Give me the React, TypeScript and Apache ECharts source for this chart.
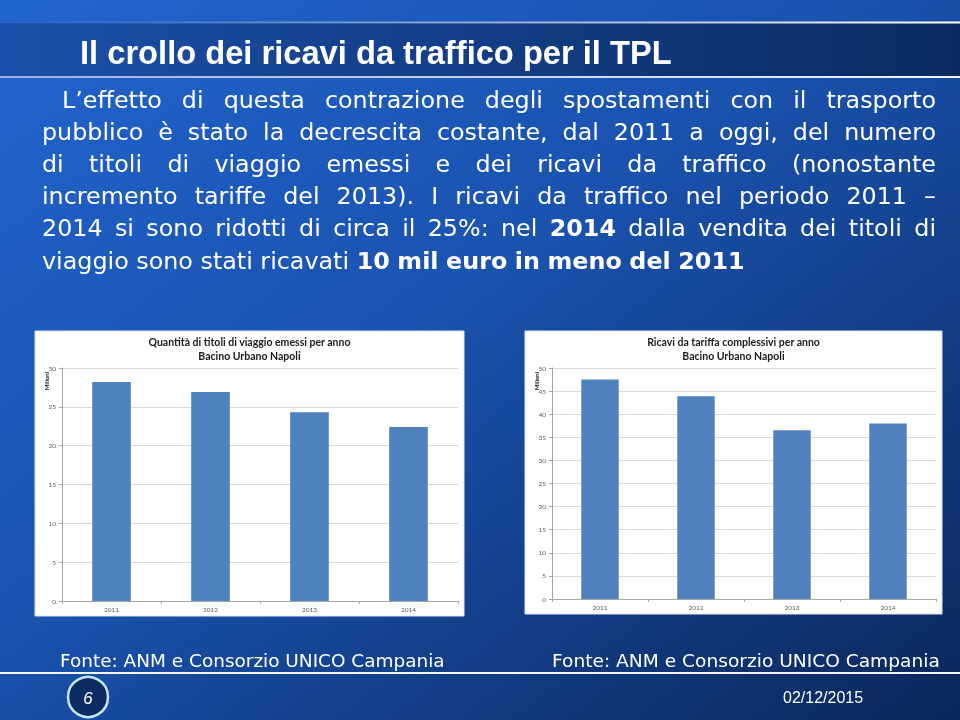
import React, { useEffect, useRef } from 'react';
import * as echarts from 'echarts';

// ---- data ----
const years = ['2011', '2012', '2013', '2014'];
const ticketsMillions = [28.2, 26.9, 24.3, 22.4];
const revenueMillions = [47.5, 43.9, 36.5, 38.0];
const ticketsAxisMax = 30;
const revenueAxisMax = 50;
const axisStep = 5;

// ---- texts ----
const slideTitle = 'Il crollo dei ricavi da traffico per il TPL';
const bodyLines = [
  'L’effetto di questa contrazione degli spostamenti con il trasporto',
  'pubblico è stato la decrescita costante, dal 2011 a oggi, del numero',
  'di titoli di viaggio emessi e dei ricavi da traffico (nonostante',
  'incremento tariffe del 2013). I ricavi da traffico nel periodo 2011 –',
  '2014 si sono ridotti di circa il 25%: nel **2014** dalla vendita dei titoli di',
  'viaggio sono stati ricavati **10 mil euro in meno del 2011**',
];
const leftChartTitle = ['Quantità di titoli di viaggio emessi per anno', 'Bacino Urbano Napoli'];
const rightChartTitle = ['Ricavi da tariffa complessivi per anno', 'Bacino Urbano Napoli'];
const unitLabel = 'Milioni';
const sourceNote = 'Fonte: ANM e Consorzio UNICO Campania';
const slideNumber = '6';
const slideDate = '02/12/2015';

const BODY_FAMILY = "'DejaVu Sans', sans-serif";
const CHART_FAMILY = 'Lato, sans-serif';

let measureCtx: CanvasRenderingContext2D | null = null;
function measure(text: string, size: number, family: string, weight = 'normal') {
  if (!measureCtx) measureCtx = document.createElement('canvas').getContext('2d');
  measureCtx!.font = `${weight} ${size}px ${family}`;
  return measureCtx!.measureText(text).width;
}

type Word = { t: string; bold: boolean };
function parseLine(line: string): Word[] {
  const parts = line.split('**');
  const words: Word[] = [];
  parts.forEach((p, i) => {
    p.split(' ').filter((w) => w.length > 0).forEach((w) => words.push({ t: w, bold: i % 2 === 1 }));
  });
  return words;
}

function buildBody(): any[] {
  const lineYs = [100, 132, 164, 196, 228, 261];
  const starts = [62, 42, 42, 42, 42, 42];
  const right = 936;
  const parsed = bodyLines.map(parseLine);
  const natural = (words: Word[], size: number) => {
    const space = measure(' ', size, BODY_FAMILY);
    let w = 0;
    words.forEach((wd, i) => {
      w += measure(wd.t, size, BODY_FAMILY, wd.bold ? 'bold' : 'normal');
      if (i > 0) w += space;
    });
    return w;
  };
  const base = 20;
  let size = base * (703 / natural(parsed[5], base));
  for (let i = 0; i < 5; i++) {
    const target = (right - starts[i]) * 0.99;
    const s = base * (target / natural(parsed[i], base));
    if (s < size) size = s;
  }
  const els: any[] = [];
  parsed.forEach((words, li) => {
    const widths = words.map((wd) => measure(wd.t, size, BODY_FAMILY, wd.bold ? 'bold' : 'normal'));
    const total = widths.reduce((a, b) => a + b, 0);
    const justify = li < 5;
    const gap = justify ? (right - starts[li] - total) / (words.length - 1) : measure(' ', size, BODY_FAMILY);
    let x = starts[li];
    words.forEach((wd, i) => {
      els.push({
        type: 'text',
        x,
        y: lineYs[li],
        z: 50,
        style: {
          text: wd.t,
          fill: '#ffffff',
          fontSize: size,
          fontFamily: BODY_FAMILY,
          fontWeight: wd.bold ? 'bold' : 'normal',
          align: 'left',
          verticalAlign: 'middle',
        },
      });
      x += widths[i] + gap;
    });
  });
  return els;
}

function buildGraphics(): any[] {
  const titleSize = 33;
  const titleW = measure(slideTitle, titleSize, "'Liberation Sans', Arial", 'bold');
  const titleScale = 592 / titleW;
  const footSize = 18;
  const footW = measure(sourceNote, footSize, BODY_FAMILY);
  const footScaleL = 385 / footW;
  const footScaleR = 388 / footW;

  const els: any[] = [
    // slide background
    {
      type: 'rect', z: -20,
      shape: { x: 0, y: 0, width: 960, height: 720 },
      style: {
        fill: new echarts.graphic.LinearGradient(0, 0, 1, 1, [
          { offset: 0, color: '#2264cf' },
          { offset: 0.45, color: '#1a52ae' },
          { offset: 1, color: '#0b2659' },
        ]),
      },
    },
    // title band
    {
      type: 'rect', z: -19,
      shape: { x: 0, y: 23, width: 960, height: 54 },
      style: {
        fill: new echarts.graphic.LinearGradient(0, 0, 1, 0, [
          { offset: 0, color: '#1b50aa' },
          { offset: 1, color: '#0b2a60' },
        ]),
      },
    },
    {
      type: 'rect', z: -18,
      shape: { x: 0, y: 21.5, width: 960, height: 2 },
      style: {
        fill: new echarts.graphic.LinearGradient(0, 0, 1, 0, [
          { offset: 0, color: 'rgba(255,255,255,0)' },
          { offset: 0.5, color: 'rgba(255,255,255,0.5)' },
          { offset: 1, color: 'rgba(255,255,255,1)' },
        ]),
      },
    },
    {
      type: 'rect', z: -18,
      shape: { x: 0, y: 76, width: 960, height: 2 },
      style: {
        fill: new echarts.graphic.LinearGradient(0, 0, 1, 0, [
          { offset: 0, color: 'rgba(255,255,255,0.55)' },
          { offset: 1, color: 'rgba(255,255,255,0.95)' },
        ]),
      },
    },
    {
      type: 'text', x: 80, y: 52, z: 50, scaleX: titleScale,
      style: {
        text: slideTitle, fill: '#ffffff', fontSize: titleSize,
        fontFamily: "'Liberation Sans', Arial", fontWeight: 'bold',
        align: 'left', verticalAlign: 'middle',
      },
    },
    // chart panels
    {
      type: 'rect', z: -10,
      shape: { x: 35, y: 331, width: 429, height: 285 },
      style: { fill: '#ffffff', stroke: '#dfe6f0', lineWidth: 1 },
    },
    {
      type: 'rect', z: -10,
      shape: { x: 525, y: 331, width: 417, height: 283 },
      style: { fill: '#ffffff', stroke: '#dfe6f0', lineWidth: 1 },
    },
    // chart titles
    ...leftChartTitle.map((t, i) => ({
      type: 'text', x: 249.5, y: 342 + i * 13.5, z: 50,
      style: { text: t, fill: '#1a1a1a', fontSize: 10.5, fontFamily: CHART_FAMILY, fontWeight: 'bold', align: 'center', verticalAlign: 'middle' },
    })),
    ...rightChartTitle.map((t, i) => ({
      type: 'text', x: 733.5, y: 342 + i * 13.5, z: 50,
      style: { text: t, fill: '#1a1a1a', fontSize: 10.5, fontFamily: CHART_FAMILY, fontWeight: 'bold', align: 'center', verticalAlign: 'middle' },
    })),
    {
      type: 'text', x: 46, y: 381, z: 50, rotation: Math.PI / 2,
      style: { text: unitLabel, fill: '#222222', fontSize: 6, fontFamily: CHART_FAMILY, fontWeight: 'bold', align: 'center', verticalAlign: 'middle' },
    },
    {
      type: 'text', x: 536, y: 381, z: 50, rotation: Math.PI / 2,
      style: { text: unitLabel, fill: '#222222', fontSize: 6, fontFamily: CHART_FAMILY, fontWeight: 'bold', align: 'center', verticalAlign: 'middle' },
    },
    // footer
    {
      type: 'text', x: 60, y: 661, z: 50, scaleX: footScaleL,
      style: { text: sourceNote, fill: '#ffffff', fontSize: footSize, fontFamily: BODY_FAMILY, align: 'left', verticalAlign: 'middle' },
    },
    {
      type: 'text', x: 552, y: 661, z: 50, scaleX: footScaleR,
      style: { text: sourceNote, fill: '#ffffff', fontSize: footSize, fontFamily: BODY_FAMILY, align: 'left', verticalAlign: 'middle' },
    },
    {
      type: 'rect', z: -18,
      shape: { x: 0, y: 672, width: 960, height: 2 },
      style: { fill: 'rgba(255,255,255,0.95)' },
    },
    {
      type: 'circle', z: 40,
      shape: { cx: 88, cy: 697, r: 20 },
      style: { fill: '#0d2c63', stroke: '#c4e6f0', lineWidth: 2.5 },
    },
    {
      type: 'text', x: 88, y: 698, z: 50,
      style: { text: slideNumber, fill: '#ffffff', fontSize: 17, fontStyle: 'italic', fontFamily: "'Liberation Sans', Arial", align: 'center', verticalAlign: 'middle' },
    },
    {
      type: 'text', x: 783, y: 697, z: 50,
      style: { text: slideDate, fill: '#ffffff', fontSize: 16, fontFamily: "'Liberation Sans', Arial", align: 'left', verticalAlign: 'middle' },
    },
  ];
  return els.concat(buildBody());
}

function axisPair(gridIndex: number, max: number) {
  const x = {
    type: 'category',
    gridIndex,
    data: years,
    axisLine: { show: true, lineStyle: { color: '#a6a6a6', width: 1 } },
    axisTick: { show: true, length: 3, lineStyle: { color: '#a6a6a6' } },
    axisLabel: { fontSize: 6.5, color: '#595959', fontFamily: CHART_FAMILY, margin: 5 },
  };
  const y = {
    type: 'value',
    gridIndex,
    min: 0,
    max,
    interval: axisStep,
    axisLine: { show: true, lineStyle: { color: '#a6a6a6', width: 1 } },
    axisTick: { show: true, length: 3, lineStyle: { color: '#a6a6a6' } },
    splitLine: { show: true, lineStyle: { color: '#d9d9d9', width: 1 } },
    axisLabel: { fontSize: 6.5, color: '#595959', fontFamily: CHART_FAMILY, margin: 6 },
  };
  return { x, y };
}

export default function App() {
  const ref = useRef<HTMLDivElement>(null);
  useEffect(() => {
    document.body.style.margin = '0';
    const chart = echarts.init(ref.current!, undefined, { renderer: 'svg' });
    const a = axisPair(0, ticketsAxisMax);
    const b = axisPair(1, revenueAxisMax);
    chart.setOption({
      animation: false,
      grid: [
        { left: 62, top: 368, width: 396, height: 233 },
        { left: 552, top: 368, width: 384, height: 231 },
      ],
      xAxis: [a.x, b.x],
      yAxis: [a.y, b.y],
      series: [
        {
          type: 'bar', xAxisIndex: 0, yAxisIndex: 0, data: ticketsMillions,
          barWidth: '39%', itemStyle: { color: '#4f81bd' }, z: 5,
        },
        {
          type: 'bar', xAxisIndex: 1, yAxisIndex: 1, data: revenueMillions,
          barWidth: '39%', itemStyle: { color: '#4f81bd' }, z: 5,
        },
      ],
      graphic: { elements: buildGraphics() },
    });
    return () => chart.dispose();
  }, []);
  return <div ref={ref} style={{ position: 'fixed', left: 0, top: 0, width: 960, height: 720 }} />;
}
